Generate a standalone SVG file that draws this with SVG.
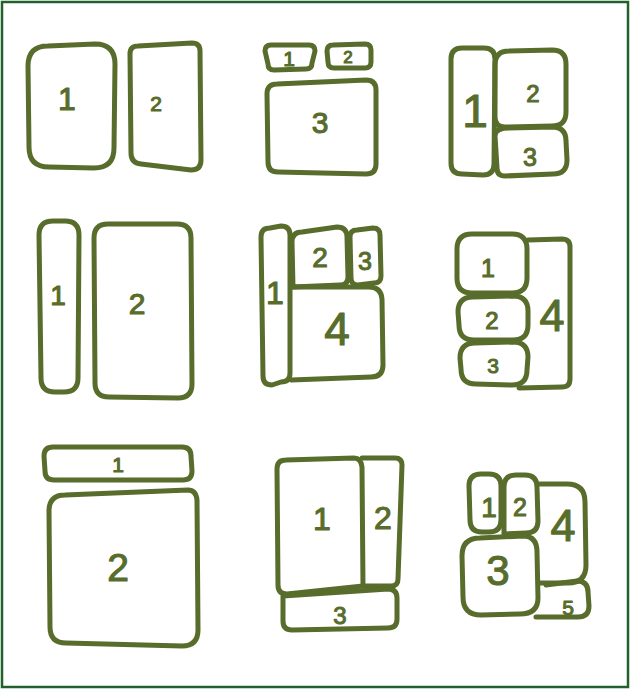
<svg xmlns="http://www.w3.org/2000/svg" width="630" height="690" viewBox="0 0 630 690">
<style>
.b{fill:none;stroke:#586c2c;stroke-width:5;stroke-linejoin:round;stroke-linecap:round}
.t{font-family:"Liberation Sans",Arial,sans-serif;fill:#586c2c;stroke:#586c2c;stroke-width:1.1;stroke-linejoin:round;text-anchor:middle}
</style>
<rect x="0" y="0" width="630" height="690" fill="#ffffff"/>
<rect x="2" y="2" width="626" height="685" fill="none" stroke="#22602c" stroke-width="2.5"/>

<g id="layoutA">
<g id="A1"><path class="b" d="M48,46 L95,44 Q115,44 115,64 L114,148 Q114,168 94,168 L49,167 Q29,167 29,147 L28,66 Q28,46 48,46Z"/><text class="t" x="67" y="109.5" font-size="32">1</text></g>
<g id="A2"><path class="b" d="M138,46 L192,43 Q200,43 200,51 L201,160 Q201,170 191,170 L141,164 Q131,163 131,153 L130,54 Q130,46 138,46Z"/><text class="t" x="156" y="110.5" font-size="21">2</text></g>
</g>

<g id="layoutB">
<g id="B1"><path class="b" d="M271,45 L309,45 Q315,45 315,51 L312,63 Q312,69 306,69 L274,70 Q268,70 268,64 L265,51 Q265,45 271,45Z"/><text class="t" x="289" y="65.5" font-size="21">1</text></g>
<g id="B2"><path class="b" d="M333,45 L365,44 Q371,44 371,50 L371,62 Q371,68 365,68 L334,68 Q328,68 328,62 L327,51 Q327,45 333,45Z"/><text class="t" x="348" y="63" font-size="17">2</text></g>
<g id="B3"><path class="b" d="M277,84 L366,80 Q376,80 376,90 L376,164 Q376,174 366,174 L278,172 Q268,172 268,162 L267,94 Q267,84 277,84Z"/><text class="t" x="320" y="133" font-size="30">3</text></g>
</g>

<g id="layoutC">
<g id="C1"><path class="b" d="M462,48 L484,48 Q495,48 495,59 L494,164 Q494,175 483,175 L462,174 Q451,174 451,163 L451,59 Q451,48 462,48Z"/><text class="t" x="475" y="126.5" font-size="46">1</text></g>
<g id="C2"><path class="b" d="M509,51 L552,50 Q566,50 566,64 L566,112 Q566,126 552,126 L505,127 Q495,127 495,117 L495,65 Q495,51 509,51Z"/><text class="t" x="533" y="101.5" font-size="24">2</text></g>
<g id="C3"><path class="b" d="M509,128 L552,127 Q566,127 566,141 L567,160 Q567,174 553,174 L505,176 Q497,176 497,168 L495,136 Q495,128 509,128Z"/><text class="t" x="530" y="166" font-size="25">3</text></g>
</g>

<g id="layoutD">
<g id="D1"><path class="b" d="M53,221 L65,221 Q79,221 79,235 L78,378 Q78,392 64,392 L55,392 Q41,392 41,378 L39,235 Q39,221 53,221Z"/><text class="t" x="58" y="305" font-size="28">1</text></g>
<g id="D2"><path class="b" d="M108,224 L177,224 Q191,224 191,238 L192,384 Q192,398 178,398 L109,397 Q95,397 95,383 L94,238 Q94,224 108,224Z"/><text class="t" x="137" y="314" font-size="30">2</text></g>
</g>

<g id="layoutE">
<g id="E1"><path class="b" d="M270,228 L281,226 Q290,226 290,235 L290,373 Q290,382 281,382 L272,385 Q263,385 263,376 L261,237 Q261,228 270,228Z"/><text class="t" x="275" y="303.5" font-size="32">1</text></g>
<g id="E2"><path class="b" d="M302,232 L337,227 Q347,227 347,237 L348,277 Q348,285 340,285 L293,287 L292,242 Q292,232 302,232Z"/><text class="t" x="320" y="267" font-size="28">2</text></g>
<g id="E3"><path class="b" d="M357,230 L373,228 Q380,228 380,235 L381,276 Q381,283 374,283 L358,285 Q351,285 351,278 L350,237 Q350,230 357,230Z"/><text class="t" x="365" y="270" font-size="25">3</text></g>
<g id="E4"><path class="b" d="M291,287 L369,287 Q381,287 382,299 L383,365 Q383,377 371,377 L291,380"/><text class="t" x="337" y="344.5" font-size="46">4</text></g>
</g>

<g id="layoutF">
<g id="F1"><path class="b" d="M472,234 L512,234 Q527,234 527,249 L527,278 Q527,293 512,293 L472,293 Q457,293 457,278 L457,249 Q457,234 472,234Z"/><text class="t" x="488" y="277" font-size="25">1</text></g>
<g id="F2"><path class="b" d="M473,297 L513,296 Q528,296 528,311 L528,325 Q528,340 513,340 L474,340 Q459,340 459,325 L458,312 Q458,297 473,297Z"/><text class="t" x="492" y="328.5" font-size="24">2</text></g>
<g id="F3"><path class="b" d="M475,343 L513,342 Q528,342 528,357 L527,370 Q527,385 512,385 L476,384 Q461,384 461,369 L460,358 Q460,343 475,343Z"/><text class="t" x="493" y="372.5" font-size="21">3</text></g>
<g id="F4"><path class="b" d="M528,240 L562,239 Q570,239 570,247 L570,379 Q570,387 562,387 L519,388"/><text class="t" x="552" y="331" font-size="45">4</text></g>
</g>

<g id="layoutG">
<g id="G1"><path class="b" d="M53,447 L182,447 Q191,447 191,456 L192,471 Q192,480 183,480 L54,480 Q45,480 45,471 L44,456 Q44,447 53,447Z"/><text class="t" x="118" y="471.5" font-size="21">1</text></g>
<g id="G2"><path class="b" d="M65,495 L188,490 Q196,490 197,500 L198,630 Q198,646 182,646 L66,643 Q50,643 50,627 L49,511 Q49,495 65,495Z"/><text class="t" x="118" y="581" font-size="39">2</text></g>
</g>

<g id="layoutH">
<g id="H1"><path class="b" d="M286,460 L354,458 Q361,458 362,467 L363,586 L287,594 Q278,594 278,585 L277,469 Q277,460 286,460Z"/><text class="t" x="322" y="529.5" font-size="32">1</text></g>
<g id="H2"><path class="b" d="M362,458 L395,458 Q402,458 402,465 L398,579 Q398,586 391,586 L363,586"/><text class="t" x="383" y="528.5" font-size="32">2</text></g>
<g id="H3"><path class="b" d="M283,596 L388,589 Q397,589 397,598 L397,619 Q397,628 388,628 L292,630 Q283,630 283,621 Z"/><text class="t" x="340" y="623.5" font-size="24">3</text></g>
</g>

<g id="layoutI">
<g id="I1"><path class="b" d="M481,474 L489,474 Q501,474 501,486 L501,520 Q501,532 489,532 L482,532 Q470,532 470,520 L469,486 Q469,474 481,474Z"/><text class="t" x="489" y="517" font-size="28">1</text></g>
<g id="I2"><path class="b" d="M516,475 L525,475 Q537,475 537,487 L538,521 Q538,533 526,533 L504,534 L504,487 Q504,475 516,475Z"/><text class="t" x="520" y="516" font-size="25">2</text></g>
<g id="I3"><path class="b" d="M480,538 L523,536 Q537,536 537,552 L538,598 Q538,614 520,614 L481,615 Q463,615 463,597 L462,556 Q462,538 480,538Z"/><text class="t" x="498" y="585" font-size="42">3</text></g>
<g id="I4"><path class="b" d="M540,484 L567,484 Q585,484 585,502 L586,565 Q586,583 568,583 L540,583"/><text class="t" x="563" y="541" font-size="45">4</text></g>
<g id="I5"><path class="b" d="M546,585 L577,581 Q588,581 588,592 L589,606 Q589,617 578,617 L536,617"/><text class="t" x="568" y="614.5" font-size="21">5</text></g>
</g>
</svg>
